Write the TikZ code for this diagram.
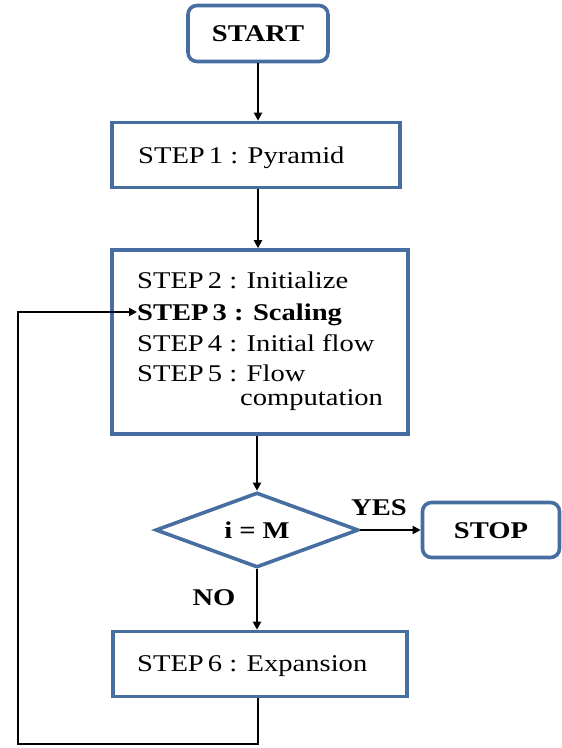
\documentclass[tikz,border=0pt]{standalone}
\usepackage{fontspec}
\setmainfont[FakeStretch=1.19]{Liberation Serif}
\usetikzlibrary{shapes.geometric,arrows.meta}
\definecolor{bluec}{RGB}{70,110,160}
\tikzset{
  box/.style={draw=bluec, line width=3.6pt, fill=white, inner sep=0pt},
  rbox/.style={box, rounded corners=9pt},
  txt/.style={font=\fontsize{24}{28}\selectfont, inner sep=0pt},
  btxt/.style={font=\fontsize{24}{28}\selectfont\bfseries, inner sep=0pt},
  arr/.style={line width=2.5pt, -{Triangle[length=8pt,width=8pt]}},
}
\begin{document}
\begin{tikzpicture}[x=1pt,y=-1pt]
\useasboundingbox (0,0) rectangle (562,748);
\node[rbox, minimum width=140pt, minimum height=56pt] (start) at (258,33.5) {};
\node[btxt, anchor=base] (startt) at (258,41.5) {START};
\node[box, minimum width=288pt, minimum height=65pt] (s1) at (256,155) {};
\node[txt, anchor=base west] (t1) at (138,163) {STEP\,1 : Pyramid};
\node[box, minimum width=296pt, minimum height=184pt] (s25) at (260,342) {};
\node[txt, anchor=base west] (l2) at (137,288) {STEP\,2 : Initialize};
\node[btxt, anchor=base west] (l3) at (137,320) {STEP\,3 : Scaling};
\node[txt, anchor=base west] (l4) at (137,351) {STEP\,4 : Initial flow};
\node[txt, anchor=base west] (l5) at (137,381) {STEP\,5 : Flow};
\node[txt, anchor=base west] (l5b) at (240,405) {computation};
\node[diamond, aspect=2.7, draw=bluec, line width=3.6pt, minimum width=203pt, minimum height=75pt, inner sep=0pt] (d) at (257,530) {};
\node[btxt, anchor=base] (dt) at (257,538) {i = M};
\node[rbox, minimum width=137pt, minimum height=55pt] (stop) at (491,530) {};
\node[btxt, anchor=base] (stopt) at (491,538.5) {STOP};
\node[btxt, anchor=base] (yes) at (379,515) {YES};
\node[btxt, anchor=base] (no) at (214,605) {NO};
\node[box, minimum width=294pt, minimum height=65pt] (s6) at (260,664) {};
\node[txt, anchor=base west] (t6) at (137,671.5) {STEP\,6 : Expansion};
\coordinate (c1) at (258,744);
\coordinate (c2) at (18,744);
\coordinate (c3) at (18,312);
\draw[arr] (start.south) -- (start.south |- s1.north);
\draw[arr] (s1.south -| start.south) -- (start.south |- s25.north);
\draw[arr] (s25.south -| d.north) -- (d.north);
\draw[arr] (d.east) -- (stop.west);
\draw[arr] (d.south) -- (d.south |- s6.north);
\draw[arr] (s6.south -| c1) -- (c1) -- (c2) -- (c3) -- (c3 -| l3.west);
\end{tikzpicture}
\end{document}
